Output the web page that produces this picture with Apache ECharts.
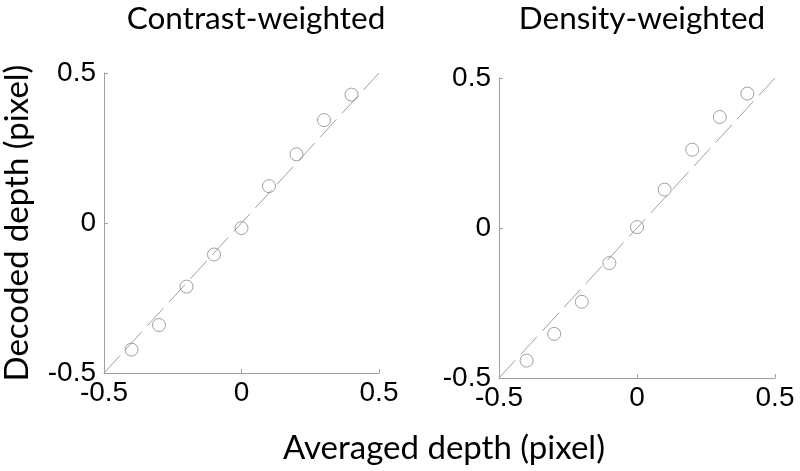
<!DOCTYPE html>
<html>
<head>
<meta charset="utf-8">
<script src="https://cdn.jsdelivr.net/npm/echarts@6/dist/echarts.min.js"></script>
<style>html,body{margin:0;padding:0;background:#fff}#c{width:800px;height:471px}</style>
</head>
<body>
<div id="c"></div>
<script>
const panelTitles = ['Contrast-weighted', 'Density-weighted'];
const averagedDepth = [-0.4, -0.3, -0.2, -0.1, 0, 0.1, 0.2, 0.3, 0.4];
const contrastDecoded = [-0.422, -0.340, -0.212, -0.105, -0.017, 0.123, 0.229, 0.343, 0.428];
const densityDecoded = [-0.442, -0.353, -0.246, -0.117, 0.003, 0.128, 0.261, 0.370, 0.448];
const identityLine = [[-0.5, -0.5], [0.5, 0.5]];
const axisMin = -0.5, axisMax = 0.5, axisStep = 0.5;
const xAxisTitle = 'Averaged depth (pixel)';
const yAxisTitle = 'Decoded depth (pixel)';

const chart = echarts.init(document.getElementById('c'));
const labelFont = 'Liberation Sans, Arial, sans-serif';
const textFont = 'Lato, Open Sans, sans-serif';
const grids = [
  {left: 103, top: 73, width: 276, height: 300},
  {left: 499, top: 78, width: 276, height: 300}
];
function axis(type, idx) {
  const isX = type === 'x';
  return {
    type: 'value', gridIndex: idx, min: axisMin, max: axisMax, interval: axisStep,
    axisLine: {show: true, onZero: false, lineStyle: {color: '#a0a0a0', width: 1}},
    axisTick: {show: true, inside: true, length: 4, lineStyle: {color: '#a0a0a0'}},
    splitLine: {show: false},
    axisLabel: {
      color: '#000', fontSize: 28, fontFamily: labelFont, margin: isX ? 6 : 8,
      formatter: v => (Math.abs(v) < 1e-9 ? '0' : String(v)),
      showMinLabel: true, showMaxLabel: true
    },
    name: (!isX && idx === 0) ? yAxisTitle : '',
    nameLocation: 'middle', nameGap: 70, nameRotate: 90,
    nameTextStyle: {color: '#000', fontSize: 33, fontFamily: textFont}
  };
}
const datasets = [contrastDecoded, densityDecoded];
const series = [];
datasets.forEach((vals, i) => {
  series.push({
    type: 'line', xAxisIndex: i, yAxisIndex: i, data: identityLine, symbol: 'none',
    lineStyle: {color: '#a0a0a0', width: 1, type: [24, 8]}, silent: true, z: 1
  });
  series.push({
    type: 'scatter', xAxisIndex: i, yAxisIndex: i,
    data: averagedDepth.map((x, k) => [x, vals[k]]),
    symbol: 'circle', symbolSize: 13,
    itemStyle: {color: 'rgba(255,255,255,0)', borderColor: '#8a8a8a', borderWidth: 1},
    z: 2
  });
});
chart.setOption({
  animation: false,
  backgroundColor: '#fff',
  grid: grids,
  xAxis: [axis('x', 0), axis('x', 1)],
  yAxis: [axis('y', 0), axis('y', 1)],
  series: series,
  graphic: [
    {type: 'text', style: {text: panelTitles[0], x: 256, y: 3, align: 'center', verticalAlign: 'top', font: '31.5px ' + textFont, fill: '#000'}},
    {type: 'text', style: {text: panelTitles[1], x: 642, y: 3, align: 'center', verticalAlign: 'top', font: '31.5px ' + textFont, fill: '#000'}},
    {type: 'text', style: {text: xAxisTitle, x: 283, y: 432, align: 'left', verticalAlign: 'top', font: '33px ' + textFont, fill: '#000'}}
  ]
});
</script>
</body>
</html>
